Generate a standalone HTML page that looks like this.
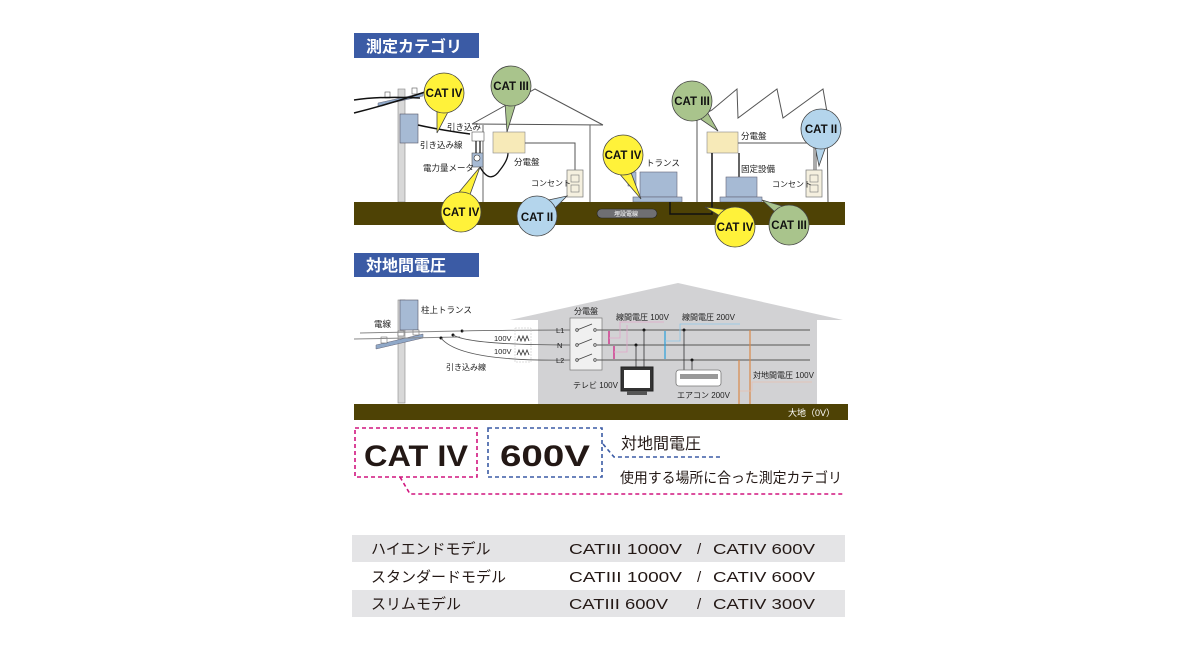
<!DOCTYPE html>
<html><head><meta charset="utf-8"><style>
html,body{margin:0;padding:0;background:#fff;}
svg{display:block;font-family:"Liberation Sans","Noto Sans CJK JP",sans-serif;}
</style></head><body>
<svg width="1198" height="650" viewBox="0 0 1198 650" xmlns="http://www.w3.org/2000/svg">
<!-- Section 1 title -->
<rect x="354" y="33" width="125" height="25" fill="#3b5ba5"/>
<text x="366" y="52" font-size="16" fill="#fff" font-weight="bold">測定カテゴリ</text>

<!-- house 1 -->
<polyline points="472,124 535,89 603,125" fill="none" stroke="#555" stroke-width="1"/>
<line x1="472" y1="124" x2="603" y2="125" stroke="#555"/>
<line x1="483" y1="125" x2="483" y2="202" stroke="#666"/>
<line x1="590" y1="125" x2="590" y2="202" stroke="#666"/>
<!-- factory -->
<polyline points="697,202 697,118 712,110 737,89 738,118 777,89 783,118 823,89 827,112 828,202" fill="none" stroke="#555"/>

<!-- pole 1 -->
<rect x="398" y="89" width="7" height="113" fill="#d8d8d8" stroke="#888" stroke-width="0.6"/>
<polygon points="378,103 423,93 423,96 378,106" fill="#8fa8c8" stroke="#667" stroke-width="0.5"/>
<rect x="385" y="92" width="5" height="6" fill="#fff" stroke="#555" stroke-width="0.6"/>
<rect x="412" y="88" width="5" height="6" fill="#fff" stroke="#555" stroke-width="0.6"/>
<path d="M354,100 Q380,96 420,98" fill="none" stroke="#111" stroke-width="1.5"/>
<path d="M354,113 Q390,104 425,92" fill="none" stroke="#111" stroke-width="1.5"/>
<rect x="400" y="114" width="18" height="29" fill="#a6bad4" stroke="#556" stroke-width="0.6"/>
<path d="M418,125 Q440,130 470,134" fill="none" stroke="#111" stroke-width="1.5"/>
<rect x="472" y="132" width="12" height="9" fill="#fff" stroke="#555" stroke-width="0.6"/>
<rect x="472" y="153" width="11" height="14" fill="#a6bad4" stroke="#555" stroke-width="0.6"/>
<circle cx="477" cy="158" r="3" fill="#fff" stroke="#333" stroke-width="0.6"/>
<line x1="476" y1="141" x2="476" y2="153" stroke="#111" stroke-width="1.2"/>
<line x1="480" y1="141" x2="480" y2="153" stroke="#111" stroke-width="1.2"/>
<path d="M480,167 Q490,185 500,170 Q508,160 508,153" fill="none" stroke="#111" stroke-width="1.3"/>
<text x="447" y="130" font-size="8.5" fill="#222">引き込み</text>
<text x="420" y="148" font-size="8.5" fill="#222">引き込み線</text>
<text x="423" y="171" font-size="8.5" fill="#222">電力量メータ</text>

<rect x="493" y="132" width="32" height="21" fill="#f7eab8" stroke="#888" stroke-width="0.6"/>
<text x="514" y="165" font-size="8.5" fill="#222">分電盤</text>
<polyline points="525,143 575,143 575,170" fill="none" stroke="#555"/>
<rect x="567" y="170" width="16" height="27" fill="#f5f0df" stroke="#777" stroke-width="0.7"/>
<rect x="571" y="175" width="8" height="7" fill="none" stroke="#777" stroke-width="0.6"/>
<rect x="571" y="185" width="8" height="7" fill="none" stroke="#777" stroke-width="0.6"/>
<text x="531" y="186" font-size="8" fill="#222">コンセント</text>

<!-- transformer -->
<rect x="628" y="172" width="8" height="14" fill="#a6bad4" stroke="#667" stroke-width="0.5"/>
<rect x="640" y="172" width="37" height="25" fill="#a6bad4" stroke="#667" stroke-width="0.6"/>
<rect x="633" y="197" width="49" height="5" fill="#a6bad4" stroke="#667" stroke-width="0.6"/>
<text x="646" y="166" font-size="8.5" fill="#222">トランス</text>

<!-- factory equipment -->
<rect x="707" y="132" width="31" height="21" fill="#f7eab8" stroke="#888" stroke-width="0.6"/>
<text x="741" y="139" font-size="8.5" fill="#222">分電盤</text>
<polyline points="738,143 814,143 814,170" fill="none" stroke="#555"/>
<line x1="816" y1="112" x2="816" y2="170" stroke="#555"/>
<line x1="739" y1="153" x2="739" y2="177" stroke="#333" stroke-width="1.5"/>
<text x="741" y="172" font-size="8.5" fill="#222">固定設備</text>
<rect x="726" y="177" width="31" height="20" fill="#a6bad4" stroke="#667" stroke-width="0.6"/>
<rect x="720" y="197" width="42" height="5" fill="#a6bad4" stroke="#667" stroke-width="0.6"/>
<rect x="806" y="170" width="16" height="27" fill="#f5f0df" stroke="#777" stroke-width="0.7"/>
<rect x="810" y="175" width="8" height="7" fill="none" stroke="#777" stroke-width="0.6"/>
<rect x="810" y="185" width="8" height="7" fill="none" stroke="#777" stroke-width="0.6"/>
<text x="772" y="187" font-size="8" fill="#222">コンセント</text>

<!-- ground 1 -->
<rect x="354" y="202" width="491" height="23" fill="#4e4205"/>
<rect x="597" y="209" width="60" height="9" rx="4.5" fill="#6f6f72" stroke="#222" stroke-width="0.6"/>
<text x="614" y="216" font-size="6" fill="#fff">埋設電線</text>
<polyline points="670,202 670,214 712,214 712,153" fill="none" stroke="#111" stroke-width="1.5"/>

<!-- bubbles -->
<g stroke="#444" stroke-width="0.8">
<polygon points="437,108 449,110 437,133" fill="#fff23a"/>
<circle cx="444" cy="93" r="20" fill="#fff23a"/>
<polygon points="505,103 516,103 507,132" fill="#a9c48c"/>
<circle cx="511" cy="86" r="20" fill="#a9c48c"/>
<polygon points="455,197 468,200 480,167" fill="#fff23a"/>
<circle cx="461" cy="212" r="20" fill="#fff23a"/>
<polygon points="544,201 553,210 567,196" fill="#b4d5ec"/>
<circle cx="537" cy="216" r="20" fill="#b4d5ec"/>
<polygon points="618,172 630,170 641,199" fill="#fff23a"/>
<circle cx="623" cy="155" r="20" fill="#fff23a"/>
<polygon points="696,116 706,110 718,131" fill="#a9c48c"/>
<circle cx="692" cy="101" r="20" fill="#a9c48c"/>
<polygon points="815,146 826,146 819,166" fill="#b4d5ec"/>
<circle cx="821" cy="129" r="20" fill="#b4d5ec"/>
<polygon points="720,216 728,210 705,207" fill="#fff23a"/>
<circle cx="735" cy="227" r="20" fill="#fff23a"/>
<polygon points="775,212 782,206 762,200" fill="#a9c48c"/>
<circle cx="789" cy="225" r="20" fill="#a9c48c"/>
</g>
<g font-size="11.5" font-weight="bold" fill="#111" text-anchor="middle">
<text x="444" y="97">CAT IV</text>
<text x="511" y="90">CAT III</text>
<text x="461" y="216">CAT IV</text>
<text x="537" y="221">CAT II</text>
<text x="623" y="159">CAT IV</text>
<text x="692" y="105">CAT III</text>
<text x="821" y="133">CAT II</text>
<text x="735" y="231">CAT IV</text>
<text x="789" y="229">CAT III</text>
</g>

<!-- Section 2 title -->
<rect x="354" y="253" width="125" height="24" fill="#3b5ba5"/>
<text x="366" y="271" font-size="16" fill="#fff" font-weight="bold">対地間電圧</text>

<!-- gray house -->
<polygon points="510,320 678,283 843,320 817,320 817,404 538,404 538,320" fill="#d2d2d4"/>
<!-- pole 2 -->
<rect x="398" y="300" width="7" height="103" fill="#d8d8d8" stroke="#888" stroke-width="0.6"/>
<rect x="400" y="300" width="18" height="30" fill="#a6bad4" stroke="#556" stroke-width="0.6"/>
<polygon points="376,345 423,334 423,338 376,349" fill="#8fa8c8" stroke="#667" stroke-width="0.5"/>
<rect x="381" y="337" width="6" height="6" fill="#fff" stroke="#555" stroke-width="0.5"/>
<rect x="398" y="331" width="6" height="5" fill="#fff" stroke="#555" stroke-width="0.5"/>
<rect x="413" y="330" width="6" height="5" fill="#fff" stroke="#555" stroke-width="0.5"/>
<line x1="354" y1="339" x2="460" y2="337" stroke="#888"/>
<line x1="360" y1="333" x2="460" y2="331" stroke="#888"/>
<text x="421" y="313" font-size="8.5" fill="#222">柱上トランス</text>
<text x="374" y="327" font-size="8.5" fill="#222">電線</text>
<circle cx="462" cy="331" r="1.5" fill="#111"/>
<circle cx="453" cy="335" r="1.5" fill="#111"/>
<circle cx="441" cy="338" r="1.5" fill="#111"/>
<path d="M462,331 Q500,330 570,330" fill="none" stroke="#555" stroke-width="0.8"/>
<path d="M453,335 Q470,345 570,345" fill="none" stroke="#555" stroke-width="0.8"/>
<path d="M441,338 Q460,362 570,360" fill="none" stroke="#555" stroke-width="0.8"/>
<text x="446" y="370" font-size="8" fill="#222">引き込み線</text>
<text x="494" y="341" font-size="7.5" fill="#222">100V</text>
<text x="494" y="354" font-size="7.5" fill="#222">100V</text>
<path d="M517,341 l2,-5 l2,5 l2,-5 l2,5 l2,-5 l2,5" fill="none" stroke="#333" stroke-width="0.8"/>
<path d="M517,355 l2,-5 l2,5 l2,-5 l2,5 l2,-5 l2,5" fill="none" stroke="#333" stroke-width="0.8"/>
<rect x="515" y="328" width="16" height="34" fill="none" stroke="#bbb" stroke-width="0.5" stroke-dasharray="2,1"/>

<!-- panel -->
<rect x="570" y="318" width="32" height="52" fill="#f0f0f0" stroke="#777" stroke-width="0.7"/>
<text x="574" y="314" font-size="8" fill="#222">分電盤</text>
<text x="556" y="333" font-size="7.5" fill="#222">L1</text>
<text x="557" y="348" font-size="7.5" fill="#222">N</text>
<text x="556" y="363" font-size="7.5" fill="#222">L2</text>
<g stroke="#444" stroke-width="0.8" fill="#fff">
<line x1="577" y1="330" x2="592" y2="324"/><circle cx="577" cy="330" r="1.3"/><circle cx="595" cy="330" r="1.3"/>
<line x1="577" y1="345" x2="592" y2="339"/><circle cx="577" cy="345" r="1.3"/><circle cx="595" cy="345" r="1.3"/>
<line x1="577" y1="360" x2="592" y2="354"/><circle cx="577" cy="360" r="1.3"/><circle cx="595" cy="360" r="1.3"/>
</g>
<g stroke="#555" stroke-width="0.9">
<line x1="597" y1="330" x2="810" y2="330"/>
<line x1="597" y1="345" x2="810" y2="345"/>
<line x1="597" y1="360" x2="810" y2="360"/>
</g>
<line x1="609" y1="331" x2="609" y2="344" stroke="#d1157e" stroke-width="1.2"/>
<line x1="614" y1="346" x2="614" y2="359" stroke="#d1157e" stroke-width="1.2"/>
<polyline points="609,338 620,338 620,322 664,322" fill="none" stroke="#e2a6c8" stroke-width="0.8"/>
<polyline points="614,352 627,352 627,325" fill="none" stroke="#e2a6c8" stroke-width="0.8"/>
<line x1="665" y1="331" x2="665" y2="359" stroke="#2aa0dc" stroke-width="1.2"/>
<polyline points="665,341 680,341 680,324 740,324" fill="none" stroke="#8cc8e8" stroke-width="0.8"/>
<text x="616" y="320" font-size="8" fill="#222">線間電圧 100V</text>
<text x="682" y="320" font-size="8" fill="#222">線間電圧 200V</text>
<g fill="#111"><circle cx="644" cy="330" r="1.5"/><circle cx="636" cy="345" r="1.5"/><circle cx="684" cy="330" r="1.5"/><circle cx="692" cy="360" r="1.5"/></g>
<g stroke="#333" stroke-width="0.8"><line x1="636" y1="345" x2="636" y2="367"/><line x1="644" y1="330" x2="644" y2="367"/><line x1="684" y1="330" x2="684" y2="370"/><line x1="692" y1="360" x2="692" y2="370"/></g>
<!-- TV -->
<rect x="621" y="367" width="32" height="24" fill="#333" stroke="#222"/>
<rect x="624" y="370" width="26" height="18" fill="#fff"/>
<rect x="627" y="391" width="20" height="4" fill="#555"/>
<text x="573" y="388" font-size="8" fill="#222">テレビ 100V</text>
<!-- aircon -->
<rect x="676" y="370" width="45" height="16" rx="3" fill="#fff" stroke="#777" stroke-width="0.8"/>
<rect x="680" y="374" width="38" height="5" fill="#999"/>
<text x="677" y="398" font-size="8" fill="#222">エアコン 200V</text>
<!-- ground lines -->
<line x1="750" y1="330" x2="750" y2="404" stroke="#d98a4a" stroke-width="1.2"/>
<line x1="739" y1="360" x2="739" y2="404" stroke="#d98a4a" stroke-width="1.2"/>
<polyline points="740,391 752,391 752,382 812,382" fill="none" stroke="#e8c0b0" stroke-width="0.8"/>
<text x="753" y="378" font-size="8" fill="#222">対地間電圧 100V</text>
<rect x="354" y="404" width="494" height="16" fill="#4e4205"/>
<text x="788" y="416" font-size="9" fill="#fff">大地（0V）</text>

<!-- bottom formula -->
<rect x="355" y="428" width="122" height="49" fill="none" stroke="#d1157e" stroke-width="1.6" stroke-dasharray="4,3"/>
<rect x="488" y="428" width="114" height="49" fill="none" stroke="#3b5ba5" stroke-width="1.6" stroke-dasharray="4,3"/>
<polyline points="400,477 410,494 845,494" fill="none" stroke="#d1157e" stroke-width="1.6" stroke-dasharray="4,3"/>
<polyline points="603,444 614,457 720,457" fill="none" stroke="#3b5ba5" stroke-width="1.6" stroke-dasharray="4,3"/>
<text x="364" y="466" font-size="30" font-weight="bold" fill="#231815" textLength="104" lengthAdjust="spacingAndGlyphs">CAT IV</text>
<text x="500" y="466" font-size="30" font-weight="bold" fill="#231815" textLength="90" lengthAdjust="spacingAndGlyphs">600V</text>
<text x="621" y="449" font-size="16" fill="#231815">対地間電圧</text>
<text x="620" y="483" font-size="14.5" fill="#231815" textLength="222" lengthAdjust="spacingAndGlyphs">使用する場所に合った測定カテゴリ</text>

<!-- table -->
<rect x="352" y="535" width="493" height="27" fill="#e4e4e6"/>
<rect x="352" y="590" width="493" height="27" fill="#e4e4e6"/>
<g font-size="15" fill="#231815">
<text x="371" y="554">ハイエンドモデル</text>
<text x="569" y="554" textLength="113" lengthAdjust="spacingAndGlyphs">CATIII 1000V</text>
<text x="697" y="554">/</text>
<text x="713" y="554" textLength="102" lengthAdjust="spacingAndGlyphs">CATIV 600V</text>
<text x="371" y="582">スタンダードモデル</text>
<text x="569" y="582" textLength="113" lengthAdjust="spacingAndGlyphs">CATIII 1000V</text>
<text x="697" y="582">/</text>
<text x="713" y="582" textLength="102" lengthAdjust="spacingAndGlyphs">CATIV 600V</text>
<text x="371" y="609">スリムモデル</text>
<text x="569" y="609" textLength="99" lengthAdjust="spacingAndGlyphs">CATIII 600V</text>
<text x="697" y="609">/</text>
<text x="713" y="609" textLength="102" lengthAdjust="spacingAndGlyphs">CATIV 300V</text>
</g>
</svg>
</body></html>
